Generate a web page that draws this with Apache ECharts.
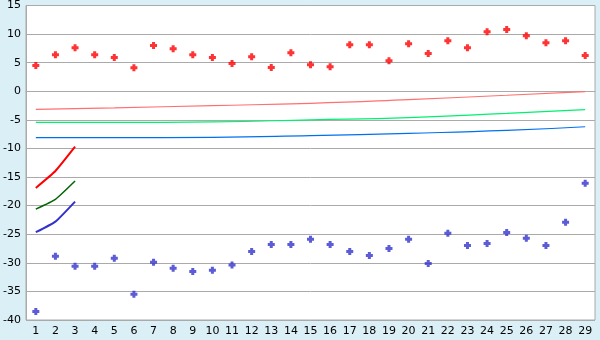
<!DOCTYPE html>
<html><head><meta charset="utf-8">
<script src="https://cdn.jsdelivr.net/npm/echarts@6/dist/echarts.min.js"></script>
<style>html,body{margin:0;padding:0;background:#daeff6;}#c{width:600px;height:340px;}</style>
</head><body><div id="c"></div>
<script>
var categories = ['1','2','3','4','5','6','7','8','9','10','11','12','13','14','15','16','17','18','19','20','21','22','23','24','25','26','27','28','29'];
var yTicks = {min: -40, max: 15, interval: 5};
var redPoints = [4.5,6.4,7.6,6.4,5.9,4.1,8.0,7.45,6.4,5.9,4.85,6.05,4.15,6.75,4.65,4.3,8.15,8.15,5.35,8.3,6.6,8.85,7.6,10.4,10.8,9.7,8.5,8.85,6.25];
var bluePoints = [-38.5,-28.85,-30.6,-30.6,-29.2,-35.5,-29.9,-30.95,-31.5,-31.3,-30.4,-28.0,-26.8,-26.8,-25.9,-26.8,-28.0,-28.7,-27.5,-25.9,-30.1,-24.85,-26.95,-26.6,-24.7,-25.7,-26.95,-22.9,-16.1];
// upper trend lines read at a few categories (null = not read)
var pinkLine  = [-3.15,null,null,null,-2.9,null,null,null,null,-2.5,null,null,null,null,-2.1,null,null,null,null,-1.45,null,null,null,null,-0.7,null,null,null,-0.05];
var greenLine = [-5.45,null,null,null,-5.45,null,null,null,null,-5.35,null,null,null,null,-5.0,null,null,null,null,-4.6,null,null,null,null,-3.85,null,null,null,-3.2];
var blueLine  = [-8.1,null,null,null,-8.1,null,null,null,null,-8.05,null,null,null,null,-7.75,null,null,null,null,-7.35,null,null,null,null,-6.85,null,null,null,-6.2];
// short lines over categories 1-3
var redShort   = [-16.9,-13.95,-9.7];
var greenShort = [-20.6,-18.9,-15.7];
var blueShort  = [-24.65,-22.8,-19.3];

var marker = 'path://M2,0H5V2H7V5H5V7H2V5H0V2H2Z';
var chart = echarts.init(document.getElementById('c'), null, {renderer:'canvas'});
function line(name, data, color, w, smooth){
  return {name:name, type:'line', data:data, connectNulls:true, smooth:smooth, symbol:'none',
    lineStyle:{color:color, width:w}, z:2, silent:true, animation:false};
}
chart.setOption({
  backgroundColor:'#daeff6',
  animation:false,
  grid:{left:26, right:5, top:5, bottom:20, show:true, backgroundColor:'#ffffff', borderColor:'#aaaaaa', borderWidth:1, containLabel:false},
  xAxis:{type:'category', data:categories, boundaryGap:true,
    axisLine:{lineStyle:{color:'#aaaaaa'}},
    axisTick:{alignWithLabel:true, length:4, lineStyle:{color:'#555555'}},
    axisLabel:{color:'#000', fontFamily:'DejaVu Sans', fontSize:11, margin:6, interval:0},
    splitLine:{show:false}},
  yAxis:{type:'value', min:yTicks.min, max:yTicks.max, interval:yTicks.interval,
    axisLine:{show:true, lineStyle:{color:'#aaaaaa'}},
    axisTick:{show:false},
    axisLabel:{color:'#000', fontFamily:'DejaVu Sans', fontSize:11, margin:5},
    splitLine:{lineStyle:{color:'#aaaaaa', width:1}}},
  series:[
    line('pink', pinkLine, '#ff7070', 1.2, true),
    line('green', greenLine, '#00f070', 1.2, true),
    line('blue', blueLine, '#0070f0', 1.2, true),
    line('redShort', redShort, '#ff0000', 2, 0.15),
    line('greenShort', greenShort, '#006400', 1.5, 0.15),
    line('blueShort', blueShort, '#3333cc', 2, 0.15),
    {type:'scatter', data:redPoints, symbol:marker, symbolSize:7, itemStyle:{color:'#ff0000'}, z:3},
    {type:'scatter', data:bluePoints, symbol:marker, symbolSize:7, itemStyle:{color:'#3333cc'}, z:3}
  ]
});
</script></body></html>
